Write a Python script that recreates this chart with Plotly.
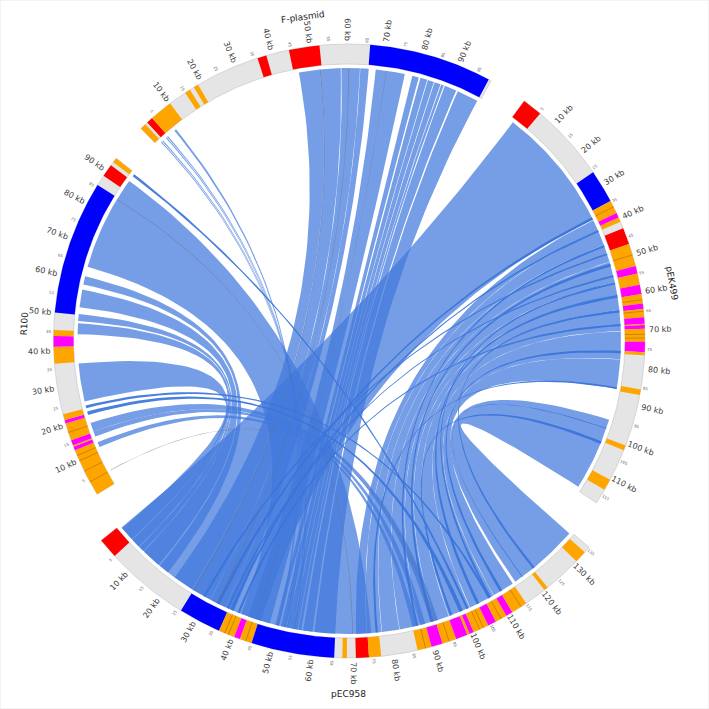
import numpy as np
import plotly.graph_objects as go

# ---- data (kb along each plasmid) -----------------------------------------
names = ["F-plasmid", "pEK499", "pEC958", "R100"]
lengths = {"F-plasmid": 99.2, "pEK499": 117.5, "pEC958": 135.6, "R100": 94.3}

o, r_, b, p = "#ffa500", "#ff0000", "#0000ff", "#ff00ff"
f_segments = [(0,1.6,o),(2.3,4,r_),(4,10.1,o),(14.9,16.4,o),(17.6,18.9,o),(36,38.4,r_),(44.5,52.6,r_),(65.9,98.5,b)]
pek_segments = [(0,5.3,r_),(26,34.8,b),(34.8,38.3,o),(38.3,39.6,p),(39.6,40.8,o),(42.6,47,r_),(47,53,o),(53,55,p),
                (55,58,o),(58,60.5,p),(60.5,63,o),(63,64.4,p),(64.4,66.6,o),(66.6,68.3,p),(68.3,68.6,o),(68.6,69.6,p),
                (69.6,73,o),(73,75.7,p),(75.7,76.5,o),(85.5,87,o),(100.7,102,o),(110.5,113.5,o)]
pec_segments = [(0,5,r_),(26,36.5,b),(36.5,40.5,o),(40.5,42,p),(42,45,o),(45,65.5,b),(67.5,68.6,o),(70.8,74,r_),(74,77,o),
                (86,89.5,o),(89.5,92.3,p),(92.3,95.8,o),(95.8,98.7,p),(98.7,99.3,o),(99.3,100.4,p),(100.4,104.3,o),
                (104.3,106.4,p),(106.4,109.3,o),(109.3,111,p),(111,115,o),(120.5,121.5,o),(131,134,o)]
r100_segments = [(0,13,o),(13,14,p),(14,14.4,o),(14.4,15.8,p),(15.8,20.5,o),(20.5,21.4,p),(21.4,23,o),(36.5,41,o),
                 (41,43.8,p),(43.8,45.4,o),(50,85.7,b),(88.6,92,r_),(93,94.3,o)]
segments = {"F-plasmid": f_segments, "pEK499": pek_segments, "pEC958": pec_segments, "R100": r100_segments}

dividers = {"F-plasmid": [], "pEK499": [36.5, 50, 62, 65, 71, 72],
            "pEC958": [38, 39, 43.5, 88, 94, 103, 102, 107.8, 113.5], "R100": [3.8, 7, 10, 11.5, 18]}

# (plasmid A, a0, a1, plasmid B, b0, b1): a0 pairs with b0 and a1 with b1
wide_links = [
    ("pEK499",1,37,"pEC958",0.7,45.6),
    ("pEK499",37.3,40.5,"pEC958",71,73.8),("pEK499",40.6,45,"pEC958",73.9,77.8),("pEK499",45.1,50,"pEC958",77.9,82.5),
    ("pEK499",50.1,56,"pEC958",82.6,88),("pEK499",56.1,60,"pEC958",88.1,92),("pEK499",60.1,64,"pEC958",92.1,96),
    ("pEK499",64.1,70,"pEC958",96.1,102),("pEK499",70.1,78,"pEC958",102.1,109),("pEK499",78.1,86.5,"pEC958",109.1,115),
    ("pEK499",95.5,116.5,"pEC958",115.8,135),
    ("R100",64,91.5,"pEC958",40,75),
    ("R100",58.8,61.2,"pEC958",15,17.8),("R100",52.2,57.3,"pEC958",9.4,14.6),("R100",48.2,50.2,"pEC958",7.7,9.2),
    ("R100",44.4,47.6,"pEC958",5,7.5),("R100",25,36,"pEC958",1,4.8),
    ("R100",16,18.6,"pEC958",91,93),("R100",14.5,16,"pEC958",88,89.5),("R100",11.2,12.7,"pEC958",86,87.2),
    ("F-plasmid",46,52,"pEC958",20,25.5),("F-plasmid",52,58,"pEC958",25.6,31),("F-plasmid",58.2,63.5,"pEC958",31.1,35.5),
    ("F-plasmid",63.6,66,"pEC958",35.6,38),("F-plasmid",68,76.4,"pEC958",42,48),("F-plasmid",78.6,80.5,"pEC958",49.5,50.5),
    ("F-plasmid",81,83,"pEC958",51,52.5),("F-plasmid",83.2,85,"pEC958",52.7,54),("F-plasmid",85.2,87,"pEC958",54.2,55.5),
    ("F-plasmid",87.2,88,"pEC958",55.7,56.5),("F-plasmid",88.3,91.8,"pEC958",57,59.5),("F-plasmid",92.3,98.5,"pEC958",60,65.5),
    ("F-plasmid",6.4,7,"pEC958",50,50.5),("F-plasmid",3.2,3.5,"pEC958",52,52.3),("F-plasmid",3.7,4,"pEC958",52.6,52.9),
    ("F-plasmid",1.3,1.6,"pEC958",54,54.3),("F-plasmid",1.8,2.1,"pEC958",54.5,54.8),
]
thin_links = [
    ("R100",93.2,93.9,"pEC958",101,101.6),("R100",23,23.8,"pEC958",107.4,108),("R100",21,22,"pEC958",99,100),
    ("pEK499",36.4,37.2,"pEC958",33,33.8),("pEK499",40.4,41,"pEC958",37,37.7),("pEK499",45,45.6,"pEC958",87,87.6),
    ("pEK499",50.6,51.4,"pEC958",91,91.7),("pEK499",56,56.6,"pEC958",107.7,108.3),("pEK499",59.7,60.5,"pEC958",104,104.8),
    ("pEK499",64,64.7,"pEC958",121.6,122.2),("pEK499",75.6,76.3,"pEC958",111,111.7),("pEK499",86,86.5,"pEC958",76.2,76.8),
    ("pEK499",98,98.2,"pEC958",118,118.2),("pEK499",102,102.8,"pEC958",96.4,97),
    ("pEK499",47.5,48,"pEC958",29,29.6),("pEK499",54,54.5,"pEC958",36,36.5),("pEK499",68,68.6,"pEC958",39,39.6),
]
grey_links = [("R100",3.8,4,"pEC958",92,92.2),("F-plasmid",52,52.2,"pEC958",26,26.2),("F-plasmid",60.2,60.4,"pEC958",33,33.2),
              ("F-plasmid",71,71.1,"pEC958",44,44.1),("R100",85,85.2,"pEC958",70,70.2)]

# ---- geometry ---------------------------------------------------------------
DEG_PER_KB = 0.739
START = {"F-plasmid": -44.4, "pEK499": 36.4, "pEC958": 230.9, "R100": 238.4}
DIRECTION = {"F-plasmid": 1, "pEK499": 1, "pEC958": -1, "R100": 1}
R_OUT = {"F-plasmid": 296, "pEK499": 297, "pEC958": 318, "R100": 294.5}
BAND = 20
GAP = 4
LABEL_POS = {"F-plasmid": (-8, 326, -8), "pEK499": (80, 329, 80), "pEC958": (180, 354, 0), "R100": (273, 324, -87)}
CX, CY = 348, 340
LINK_COLOR = "rgba(65,120,220,0.72)"
THIN_COLOR = "rgba(58,116,218,0.92)"


def theta(s, kb):
    return START[s] + DIRECTION[s] * DEG_PER_KB * kb


def xy(rad, th):
    t = np.radians(th)
    return rad * np.sin(t), rad * np.cos(t)


def arc(s, k0, k1, rad):
    n = max(3, int(abs(k1 - k0) * 1.5) + 2)
    return xy(rad, theta(s, np.linspace(k0, k1, n)))


def bez(x0, y0, x1, y1):
    t = np.linspace(0, 1, 50)
    return (1 - t) ** 2 * x0 + t ** 2 * x1, (1 - t) ** 2 * y0 + t ** 2 * y1


def link_path(a, a0, a1, c, b0, b1):
    ra = R_OUT[a] - BAND - GAP
    rb = R_OUT[c] - BAND - GAP
    ax, ay = arc(a, a0, a1, ra)
    bx, by = arc(c, b1, b0, rb)
    x1, y1 = bez(ax[-1], ay[-1], bx[0], by[0])
    x2, y2 = bez(bx[-1], by[-1], ax[0], ay[0])
    return np.concatenate([ax, x1, bx, x2]), np.concatenate([ay, y1, by, y2])


fig = go.Figure()


def poly(x, y, fill, line=None, w=0):
    fig.add_trace(go.Scatter(x=x, y=y, mode="lines", fill="toself", fillcolor=fill,
                             line=dict(color=line or "rgba(0,0,0,0)", width=w), hoverinfo="skip", showlegend=False))


for link in wide_links:
    poly(*link_path(*link), LINK_COLOR)
for link in thin_links:
    poly(*link_path(*link), THIN_COLOR)
for link in grey_links:
    poly(*link_path(*link), "rgba(110,110,120,0.55)")


def band(s, k0, k1, fill, line=None, w=0):
    ro = R_OUT[s]
    xo, yo = arc(s, k0, k1, ro)
    xi, yi = arc(s, k1, k0, ro - BAND)
    poly(np.concatenate([xo, xi, xo[:1]]), np.concatenate([yo, yi, yo[:1]]), fill, line, w)


ann = []
for s in names:
    band(s, 0, lengths[s], "#e5e5e5", "#c8c8c8", 0.7)
    for k0, k1, col in segments[s]:
        band(s, k0, k1, col)
    for k in dividers[s]:
        x, y = zip(xy(R_OUT[s], theta(s, k)), xy(R_OUT[s] - BAND, theta(s, k)))
        fig.add_trace(go.Scatter(x=x, y=y, mode="lines", line=dict(color="rgba(150,95,0,0.8)", width=0.6),
                                 hoverinfo="skip", showlegend=False))
    for k in range(5, int(lengths[s]) + 1, 5):
        th = theta(s, k)
        major = k % 10 == 0
        a = th % 360
        ang = a - 90 if a < 180 else a - 270
        if ang > 90:
            ang -= 180
        lx, ly = xy(R_OUT[s] + (15 if major else 5), th)
        ann.append(dict(x=lx, y=ly, text=f"{k} kb" if major else str(k), showarrow=False, textangle=ang,
                        font=dict(size=8 if major else 4, color="#3a3a3a" if major else "#666666",
                                  family="DejaVu Sans"), xanchor="center", yanchor="middle"))
    lt, lr, la = LABEL_POS[s]
    lx, ly = xy(lr, lt)
    ann.append(dict(x=lx, y=ly, text=s, showarrow=False, textangle=la,
                    font=dict(size=9, color="#222222", family="DejaVu Sans"), xanchor="center", yanchor="middle"))

W = H = 709
fig.update_layout(width=W, height=H, margin=dict(l=0, r=0, t=0, b=0), paper_bgcolor="white", plot_bgcolor="white",
                  showlegend=False, annotations=ann,
                  shapes=[dict(type="rect", xref="paper", yref="paper", x0=0, x1=1, y0=0, y1=1,
                               line=dict(color="#e8e8e8", width=1))],
                  xaxis=dict(range=[-CX, W - CX], visible=False, fixedrange=True),
                  yaxis=dict(range=[CY - H, CY], visible=False, fixedrange=True))
fig.write_html("out.html", post_script="document.body.style.margin='0';document.body.style.overflow='hidden';",
               config=dict(displayModeBar=False))
